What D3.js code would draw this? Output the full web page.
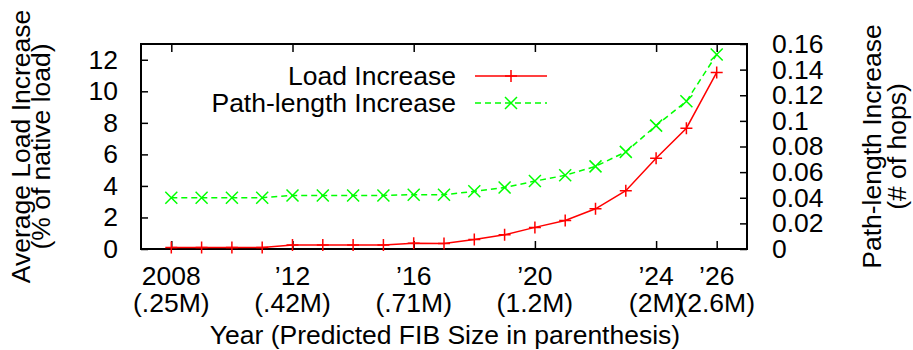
<html lang="en">
  <head>
    <meta charset="utf-8" />
    <title>Load and path-length increase</title>
    <script src="https://cdn.jsdelivr.net/npm/d3@7"></script>
    <style>
      body { margin: 0; background: #fff; }
      text { font-family: "Liberation Sans", Arial, sans-serif; fill: #000; }
    </style>
  </head>
  <body>
    <script type="text/javascript">
      /*************************** Data ***************************/

      var years = [2008, 2009, 2010, 2011, 2012, 2013, 2014, 2015, 2016, 2017,
                   2018, 2019, 2020, 2021, 2022, 2023, 2024, 2025, 2026];
      // average load increase (% of native load), left axis
      var load = [0.1, 0.1, 0.1, 0.1, 0.25, 0.25, 0.25, 0.25, 0.36, 0.35,
                  0.6, 0.9, 1.37, 1.81, 2.55, 3.7, 5.76, 7.66, 11.2];
      // path-length increase (# of hops), right axis
      var hops = [0.040, 0.040, 0.040, 0.040, 0.0418, 0.0418, 0.0418, 0.0418, 0.0424, 0.0424,
                  0.045, 0.048, 0.053, 0.0575, 0.0645, 0.0758, 0.0963, 0.1153, 0.1518];

      var xTickYears = [2008, 2012, 2016, 2020, 2024, 2026];
      var xTickTop = ["2008", "\u201912", "\u201916", "\u201920", "\u201924", "\u201926"];
      var xTickBottom = ["(.25M)", "(.42M)", "(.71M)", "(1.2M)", "(2M)", "(2.6M)"];
      var yTicks = [0, 2, 4, 6, 8, 10, 12];
      var y2Ticks = [0, 0.02, 0.04, 0.06, 0.08, 0.1, 0.12, 0.14, 0.16];
      var seriesNames = ["Load Increase", "Path-length Increase"];

      /*************************** Canvas ***************************/

      var W = 913, H = 350;
      var pL = 141, pR = 747, pT = 44, pB = 249;
      var fs = 26.5;

      var svg = d3.select("body").append("svg")
        .attr("width", W).attr("height", H);

      var x = d3.scaleLinear().domain([2007, 2027]).range([pL, pR]);
      var y = d3.scaleLinear().domain([0, 13]).range([pB, pT]);
      var y2 = d3.scaleLinear().domain([0, 0.16]).range([pB, pT]);

      function styleAxis(g) {
        g.select(".domain").remove();
        g.selectAll("line").attr("stroke", "#000").attr("stroke-width", 1.5);
        g.selectAll("text").style("font-size", fs + "px")
          .style("font-family", '"Liberation Sans", Arial, sans-serif');
      }

      svg.append("g").attr("transform", "translate(" + pL + ",0)")
        .call(d3.axisLeft(y).tickValues(yTicks).tickSize(-7).tickPadding(23))
        .call(styleAxis);

      svg.append("g").attr("transform", "translate(" + pR + ",0)")
        .call(d3.axisRight(y2).tickValues(y2Ticks).tickSize(-7).tickPadding(25)
          .tickFormat(function (d) { return String(+d.toFixed(2)); }))
        .call(styleAxis);

      svg.append("g").attr("transform", "translate(0," + pT + ")")
        .call(d3.axisTop(x).tickValues(xTickYears).tickSize(-8).tickFormat(""))
        .call(styleAxis);

      svg.append("g").attr("transform", "translate(0," + pB + ")")
        .call(d3.axisBottom(x).tickValues(xTickYears).tickSize(-8).tickFormat(""))
        .call(styleAxis);

      xTickYears.forEach(function (yr, i) {
        var t = svg.append("text").attr("text-anchor", "middle")
          .style("font-size", fs + "px");
        t.append("tspan").attr("x", x(yr)).attr("y", 285).text(xTickTop[i]);
        t.append("tspan").attr("x", x(yr)).attr("y", 312).text(xTickBottom[i]);
      });

      svg.append("rect")
        .attr("x", pL).attr("y", pT)
        .attr("width", pR - pL).attr("height", pB - pT)
        .attr("fill", "none").attr("stroke", "#000").attr("stroke-width", 2);

      /*************************** Axis titles ***************************/

      svg.append("text").attr("text-anchor", "middle")
        .attr("x", 445).attr("y", 344)
        .style("font-size", fs + "px")
        .text("Year (Predicted FIB Size in parenthesis)");

      var yc = (pT + pB) / 2;
      var yl = svg.append("text").attr("text-anchor", "middle")
        .attr("transform", "translate(0," + yc + ") rotate(-90)")
        .style("font-size", fs + "px");
      yl.append("tspan").attr("x", 0).attr("y", 30).text("Average Load Increase");
      yl.append("tspan").attr("x", 0).attr("y", 50).text("(% of native load)");

      var yr2 = svg.append("g").attr("transform", "translate(0," + yc + ") rotate(-90)")
        .append("text").attr("text-anchor", "middle")
        .style("font-size", fs + "px");
      yr2.append("tspan").attr("x", 0).attr("y", 881).text("Path-length Increase");
      yr2.append("tspan").attr("x", 0).attr("y", 906).text("(# of hops)");

      /*************************** Series ***************************/

      var lineLoad = d3.line()
        .x(function (d, i) { return x(years[i]); })
        .y(function (d) { return y(d); });
      var lineHops = d3.line()
        .x(function (d, i) { return x(years[i]); })
        .y(function (d) { return y2(d); });

      svg.append("path").datum(hops).attr("d", lineHops)
        .attr("fill", "none").attr("stroke", "#00ff00").attr("stroke-width", 1.5)
        .attr("stroke-dasharray", "6,4");
      svg.append("path").datum(load).attr("d", lineLoad)
        .attr("fill", "none").attr("stroke", "#ff0000").attr("stroke-width", 1.5);

      var m = 6;
      function plus(g, cx, cy, col) {
        g.append("path")
          .attr("d", "M" + (cx - m) + "," + cy + "H" + (cx + m) + "M" + cx + "," + (cy - m) + "V" + (cy + m))
          .attr("stroke", col).attr("stroke-width", 1.5).attr("fill", "none");
      }
      function cross(g, cx, cy, col) {
        g.append("path")
          .attr("d", "M" + (cx - m) + "," + (cy - m) + "L" + (cx + m) + "," + (cy + m) +
                     "M" + (cx - m) + "," + (cy + m) + "L" + (cx + m) + "," + (cy - m))
          .attr("stroke", col).attr("stroke-width", 1.5).attr("fill", "none");
      }

      var marks = svg.append("g");
      hops.forEach(function (v, i) { cross(marks, x(years[i]), y2(v), "#00ff00"); });
      load.forEach(function (v, i) { plus(marks, x(years[i]), y(v), "#ff0000"); });

      /*************************** Legend ***************************/

      var legY = [76, 103];
      var leg = svg.append("g");
      seriesNames.forEach(function (name, i) {
        leg.append("text").attr("x", 456).attr("y", legY[i]).attr("dy", "0.35em")
          .attr("text-anchor", "end").style("font-size", fs + "px").text(name);
        leg.append("line").attr("x1", 475).attr("x2", 547)
          .attr("y1", legY[i]).attr("y2", legY[i])
          .attr("stroke", i === 0 ? "#ff0000" : "#00ff00").attr("stroke-width", 1.5)
          .attr("stroke-dasharray", i === 0 ? null : "6,4");
        if (i === 0) plus(leg, 511, legY[i], "#ff0000");
        else cross(leg, 511, legY[i], "#00ff00");
      });
    </script>
  </body>
</html>
